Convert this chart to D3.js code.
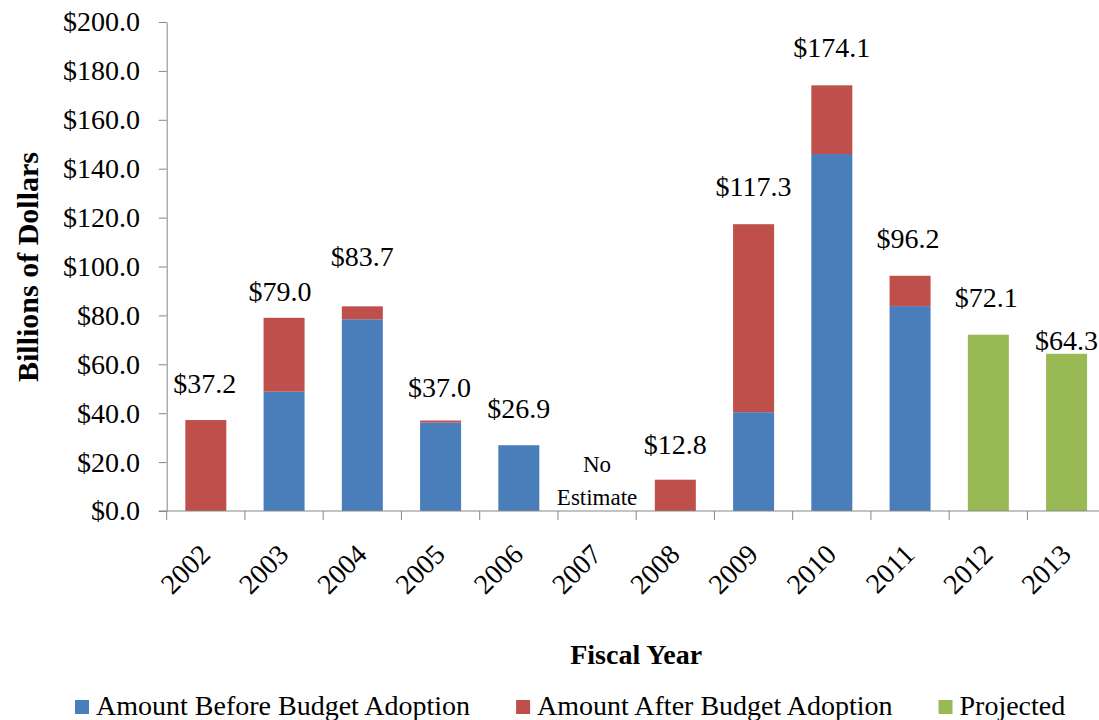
<!DOCTYPE html>
<html lang="en">
<head>
<meta charset="UTF-8">
<title>Budget gaps by fiscal year</title>
<script src="https://cdn.jsdelivr.net/npm/d3@7/dist/d3.min.js"></script>
<style>
    body{ margin:0; background:#fff; }
    svg text{ font-family:"Liberation Serif", "DejaVu Serif", serif; fill:#000; }
    .axis path, .axis line{ stroke:#878787; }
    .axis text{ font-size:28px; }
</style>
</head>
<body>
<script>
// data
var years      = ['2002','2003','2004','2005','2006','2007','2008','2009','2010','2011','2012','2013'];
var before     = [0, 48.8, 78.4, 36.2, 26.9, 0, 0, 40.4, 146.0, 83.8, 0, 0];
var after      = [37.2, 30.2, 5.3, 0.8, 0, 0, 12.8, 76.9, 28.1, 12.4, 0, 0];
var projected  = [0, 0, 0, 0, 0, 0, 0, 0, 0, 0, 72.1, 64.3];
var noEstimate = ['2007'];
var yTicks     = [0, 20, 40, 60, 80, 100, 120, 140, 160, 180, 200];

var seriesNames = {before:'Amount Before Budget Adoption', after:'Amount After Budget Adoption', projected:'Projected'};
var keys = ['before','after','projected'];
var colors = {before:'#4A7EBB', after:'#BE4F4B', projected:'#98B954'};

// hand placed value labels in the original, [dx, dy] from the default spot
var labelShift = [[-1,1],[-4,11.5],[0,-12],[-1,4],[0,1],[0,0],[0,2.5],[0,0],[0,0],[-2,0],[-2,0],[0,24]];

var width = 1099, height = 720;

var rows = years.map(function(y,i){
    return {year:y, before:before[i], after:after[i], projected:projected[i]};
});

var svg = d3.select('body').append('svg')
    .attr('width', width)
    .attr('height', height);

var x = d3.scaleBand()
    .domain(years)
    .range([166.7, 1105.7])
    .paddingInner(0.476)
    .paddingOuter(0.238);

var y = d3.scaleLinear()
    .domain([0, 200])
    .range([511, 22]);

var stack = d3.stack().keys(keys);
var layers = stack(rows);

// bars
svg.append('g').selectAll('g')
    .data(layers)
    .enter().append('g')
    .attr('fill', function(d){ return colors[d.key]; })
    .selectAll('rect')
    .data(function(d){ return d; })
    .enter().append('rect')
    .filter(function(d){ return d[1] - d[0] > 0; })
    .attr('x', function(d){ return x(d.data.year); })
    .attr('width', x.bandwidth())
    .attr('y', function(d){ return y(d[1]); })
    .attr('height', function(d){ return y(d[0]) - y(d[1]); });

// y axis
var yAxis = svg.append('g')
    .attr('class','axis')
    .attr('transform','translate(166.7,0)')
    .call(d3.axisLeft(y)
        .tickValues(yTicks)
        .tickFormat(function(d){ return '$' + d.toFixed(1); })
        .tickSize(8)
        .tickSizeOuter(0)
        .tickPadding(18.7));
yAxis.attr('font-family', null).attr('font-size', null);
yAxis.select('.domain').attr('stroke','#878787');

// x axis: line plus ticks on the band edges
var edges = years.map(function(d){ return x(d) - x.step() * x.paddingInner() / 2; });
edges.push(edges[edges.length-1] + x.step());

var xAxis = svg.append('g').attr('class','axis');
xAxis.append('line')
    .attr('x1', 159).attr('x2', width)
    .attr('y1', y(0)).attr('y2', y(0));
xAxis.selectAll('line.tick')
    .data(edges)
    .enter().append('line')
    .attr('class','tick')
    .attr('x1', function(d){ return d; })
    .attr('x2', function(d){ return d; })
    .attr('y1', y(0))
    .attr('y2', y(0) + 9);
xAxis.selectAll('text')
    .data(years)
    .enter().append('text')
    .attr('transform', function(d){
        return 'translate(' + (x(d) + x.bandwidth()/2 + 6) + ',556) rotate(-45)';
    })
    .attr('text-anchor','end')
    .text(function(d){ return d; });

// value labels above the bars
var fmt = d3.format('$.1f');
svg.append('g').selectAll('text')
    .data(rows)
    .enter().append('text')
    .filter(function(d){ return noEstimate.indexOf(d.year) < 0; })
    .attr('x', function(d){ var i = years.indexOf(d.year); return x(d.year) + x.bandwidth()/2 + labelShift[i][0]; })
    .attr('y', function(d){
        var i = years.indexOf(d.year);
        return y(d.before + d.after + d.projected) - 28 + labelShift[i][1];
    })
    .attr('text-anchor','middle')
    .style('font-size','28px')
    .text(function(d){ return fmt(d.before + d.after + d.projected); });

// "No Estimate" note
noEstimate.forEach(function(yr){
    var cx = x(yr) + x.bandwidth()/2;
    var note = svg.append('text')
        .attr('text-anchor','middle')
        .style('font-size','23px');
    note.append('tspan').attr('x', cx).attr('y', 472).text('No');
    note.append('tspan').attr('x', cx).attr('y', 505).text('Estimate');
});

// axis titles
svg.append('text')
    .attr('transform','translate(38,267) rotate(-90)')
    .attr('text-anchor','middle')
    .style('font-size','30px')
    .style('font-weight','bold')
    .text('Billions of Dollars');

svg.append('text')
    .attr('x', (x.range()[0] + x.range()[1]) / 2)
    .attr('y', 664)
    .attr('text-anchor','middle')
    .style('font-size','28px')
    .style('font-weight','bold')
    .text('Fiscal Year');

// legend
var legend = svg.append('g').attr('transform','translate(75,700)');
var lx = 0;
keys.forEach(function(k){
    var item = legend.append('g').attr('transform','translate(' + lx + ',0)');
    item.append('rect')
        .attr('width', 14).attr('height', 14)
        .attr('fill', colors[k]);
    var t = item.append('text')
        .attr('x', 21)
        .attr('y', 15)
        .style('font-size','28px')
        .text(seriesNames[k]);
    lx += 21 + t.node().getComputedTextLength() + 46;
});
</script>
</body>
</html>
